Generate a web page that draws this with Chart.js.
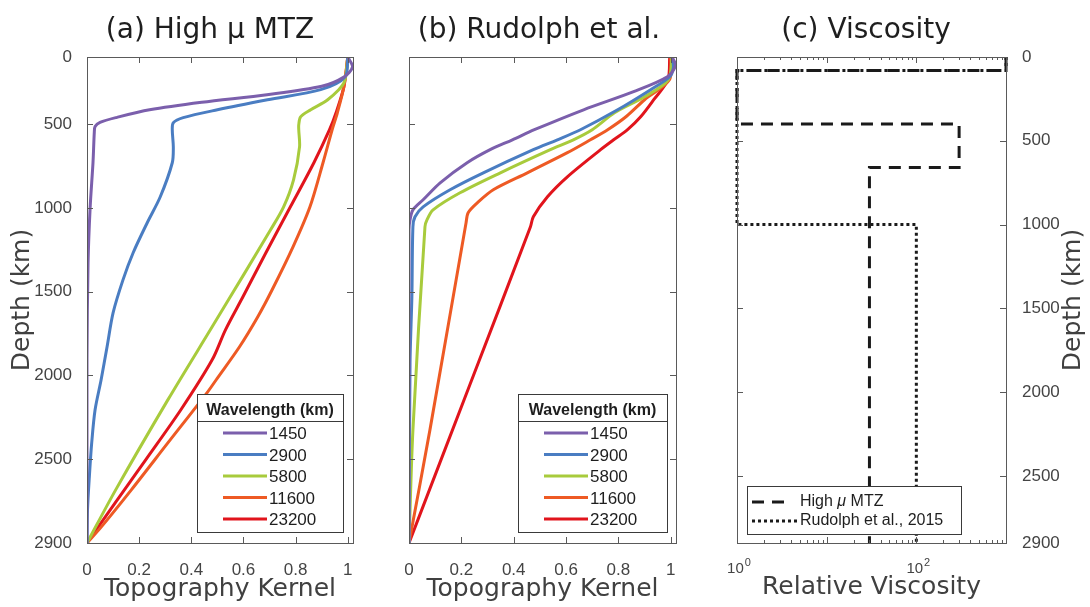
<!DOCTYPE html>
<html lang="en">
<head>
<meta charset="UTF-8" />
<title>Topography kernels and viscosity</title>
<script src="https://cdn.jsdelivr.net/npm/chart.js"></script>
<style>
  body { margin: 0; background: #fff; }
  #wrap { position: relative; width: 1090px; height: 607px; overflow: hidden; }
  canvas { position: absolute; top: 0; }
</style>
</head>
<body>
<div id="wrap">
  <canvas id="chartA" width="370" height="607" style="left:0px"></canvas>
  <canvas id="chartB" width="330" height="607" style="left:370px"></canvas>
  <canvas id="chartC" width="390" height="607" style="left:700px"></canvas>
</div>

<script>
// wavelengths and colours of the kernel curves
const wavelengths = ['1450', '2900', '5800', '11600', '23200'];
const kernelColors = ['#7b5fac', '#4a7dc2', '#a8cb3c', '#ee5a24', '#e1141c'];

// (a) High mu MTZ : depth (km, plotted axis) and kernel value
const depthA1450 = [0, 60, 120, 175, 225, 270, 315, 360, 390, 415, 450, 630, 900, 1230, 1800, 2900];
const kernA1450  = [1.0, 1.018, 0.985, 0.9, 0.69, 0.44, 0.24, 0.115, 0.05, 0.031, 0.028, 0.023, 0.012, 0.004, 0.0, 0.0];
const depthA2900 = [0, 118, 195, 255, 315, 362, 392, 434, 536, 631, 834, 989, 1168, 1330, 1527, 1729, 1927, 2105, 2303, 2505, 2700, 2900];
const kernA2900  = [1.0, 0.99, 0.896, 0.692, 0.5, 0.369, 0.331, 0.327, 0.331, 0.327, 0.281, 0.231, 0.177, 0.138, 0.1, 0.077, 0.054, 0.031, 0.018, 0.009, 0.002, 0];
const depthA5800 = [0, 154, 255, 315, 357, 404, 434, 536, 733, 894, 1031, 1288, 1610, 2046, 2583, 2900];
const kernA5800  = [1.0, 0.985, 0.923, 0.858, 0.819, 0.812, 0.812, 0.815, 0.792, 0.754, 0.704, 0.605, 0.48, 0.31, 0.11, 0];
const depthA11600 = [0, 178, 333, 434, 631, 894, 1133, 1389, 1550, 1729, 1916, 2004, 2303, 2583, 2804, 2900];
const kernA11600  = [1.0, 0.985, 0.96, 0.94, 0.905, 0.855, 0.79, 0.71, 0.655, 0.585, 0.5, 0.46, 0.31, 0.17, 0.055, 0];
const depthA23200 = [0, 178, 333, 434, 631, 894, 1168, 1431, 1628, 1807, 2105, 2404, 2661, 2900];
const kernA23200  = [1.0, 0.985, 0.955, 0.93, 0.87, 0.78, 0.686, 0.598, 0.531, 0.48, 0.36, 0.225, 0.108, 0];

// (b) Rudolph et al.
const depthB1450 = [0, 50, 118, 207, 315, 434, 494, 553, 631, 751, 852, 912, 971, 1031, 2900];
const kernB1450  = [1.005, 1.018, 0.987, 0.858, 0.667, 0.479, 0.395, 0.31, 0.222, 0.119, 0.054, 0.015, 0.004, 0, 0];
const depthB2900 = [0, 60, 118, 195, 315, 434, 494, 553, 691, 792, 894, 953, 1013, 1431, 1825, 2900];
const kernB2900  = [1.005, 1.01, 0.996, 0.923, 0.797, 0.655, 0.567, 0.475, 0.284, 0.157, 0.054, 0.023, 0.015, 0.011, 0.004, 0];
const depthB5800 = [0, 136, 237, 333, 434, 494, 553, 691, 810, 912, 971, 1013, 2225, 2900];
const kernB5800  = [1.005, 0.99, 0.9, 0.785, 0.70, 0.628, 0.54, 0.349, 0.195, 0.092, 0.069, 0.061, 0.015, 0];
const depthB11600 = [0, 136, 255, 355, 434, 494, 571, 691, 792, 870, 929, 989, 2225, 2900];
const kernB11600  = [1.0, 0.995, 0.9, 0.83, 0.759, 0.693, 0.605, 0.452, 0.322, 0.261, 0.226, 0.218, 0.08, 0];
const depthB23200 = [0, 136, 255, 357, 434, 494, 553, 715, 834, 953, 1013, 1950, 2900];
const kernB23200  = [0.996, 0.989, 0.935, 0.885, 0.835, 0.782, 0.732, 0.605, 0.529, 0.475, 0.464, 0.234, 0];

// (c) relative viscosity profiles
const depthMTZ = [0, 80, 80, 400, 400, 660, 660, 2900];
const viscMTZ  = [1000, 1000, 1, 1, 300, 300, 30, 30];
const depthRud = [0, 80, 80, 1000, 1000, 2900];
const viscRud  = [1000, 1000, 1, 1, 100, 100];

// ticks
const kernelTicks = [0, 0.2, 0.4, 0.6, 0.8, 1];
const depthTickPosAB = [0, 400, 900, 1400, 1900, 2400, 2900];
const depthTickLabelsAB = ['0', '500', '1000', '1500', '2000', '2500', '2900'];
const depthTicksC = [0, 500, 1000, 1500, 2000, 2500, 2900];
const viscDecades = [1, 10, 100, 1000];
const viscLabelTicks = [1, 100];
const viscLabelExp = ['0', '2'];

const tickColor = '#444';
const axisColor = '#5a5a5a';
const textColor = '#1e1e1e';
const sansFamily = '"Liberation Sans", "DejaVu Sans", Arial, sans-serif';
const bigFamily = '"DejaVu Sans", "Liberation Sans", sans-serif';

Chart.defaults.font.family = sansFamily;
Chart.defaults.color = tickColor;

function kernelSets(depths, kerns) {
  return depths.map((d, i) => ({
    label: wavelengths[i],
    data: d.map((v, j) => ({ x: kerns[i][j], y: v })),
    borderColor: kernelColors[i],
    backgroundColor: kernelColors[i],
    showLine: true,
    borderWidth: 3,
    tension: 0.3,
    pointRadius: 0
  }));
}

// box, inward ticks, panel title and legends
function makeDeco(cfg) {
  return {
    id: 'deco',
    afterDatasetsDraw(chart) {
      const { ctx, chartArea: a } = chart;
      const xs = chart.scales.x, ys = chart.scales.y;
      ctx.save();
      ctx.strokeStyle = axisColor;
      ctx.lineWidth = 1;
      ctx.beginPath();
      xs.ticks.forEach(t => {
        const p = Math.round(xs.getPixelForValue(t.value)) + 0.5;
        const len = cfg.logX && !viscDecades.includes(t.value) ? 3 : 6;
        ctx.moveTo(p, a.bottom); ctx.lineTo(p, a.bottom - len);
        ctx.moveTo(p, a.top); ctx.lineTo(p, a.top + len);
      });
      ys.ticks.forEach(t => {
        const p = Math.round(ys.getPixelForValue(t.value)) + 0.5;
        ctx.moveTo(a.left, p); ctx.lineTo(a.left + 6, p);
        ctx.moveTo(a.right, p); ctx.lineTo(a.right - 6, p);
      });
      ctx.stroke();
      ctx.strokeRect(Math.round(a.left) + 0.5, Math.round(a.top) + 0.5, Math.round(a.width), Math.round(a.height));

      // panel title
      ctx.fillStyle = textColor;
      ctx.font = '28px ' + bigFamily;
      ctx.textAlign = 'center';
      ctx.textBaseline = 'alphabetic';
      ctx.fillText(cfg.title, cfg.titleX, 38);

      if (cfg.rightTitle) {
        ctx.save();
        ctx.translate(cfg.rightTitleX, (a.top + a.bottom) / 2);
        ctx.rotate(-Math.PI / 2);
        ctx.fillStyle = '#404040';
        ctx.font = '25px ' + bigFamily;
        ctx.textAlign = 'center';
        ctx.fillText(cfg.rightTitle, 0, 0);
        ctx.restore();
      }

      // power-of-ten labels under the log axis
      if (cfg.logX) {
        ctx.fillStyle = tickColor;
        ctx.textAlign = 'left';
        ctx.textBaseline = 'alphabetic';
        viscLabelTicks.forEach((v, i) => {
          const p = xs.getPixelForValue(v);
          ctx.font = '15px ' + sansFamily;
          const w1 = ctx.measureText('10').width;
          ctx.font = '11px ' + sansFamily;
          const w2 = ctx.measureText(viscLabelExp[i]).width;
          const x0 = p + 2 - (w1 + 1 + w2) / 2;
          ctx.font = '15px ' + sansFamily;
          ctx.fillText('10', x0, a.bottom + 30);
          ctx.font = '11px ' + sansFamily;
          ctx.fillText(viscLabelExp[i], x0 + w1 + 1, a.bottom + 23);
        });
      }

      if (cfg.legend === 'kernel') drawKernelLegend(chart, a.right - cfg.legLeft, a.right - cfg.legRight);
      if (cfg.legend === 'visc') drawViscLegend(chart, a.left + 10, a.left + 224);
      ctx.restore();
    }
  };
}

function drawKernelLegend(chart, left, right) {
  const { ctx, chartArea: a } = chart;
  const top = a.bottom - 149, bottom = a.bottom - 11, sep = top + 27;
  ctx.fillStyle = '#fff';
  ctx.fillRect(left, top, right - left, bottom - top);
  ctx.strokeStyle = '#3a3a3a';
  ctx.lineWidth = 1;
  ctx.strokeRect(Math.round(left) + 0.5, top + 0.5, Math.round(right - left), bottom - top);
  ctx.beginPath();
  ctx.moveTo(left, sep + 0.5); ctx.lineTo(right, sep + 0.5);
  ctx.stroke();
  ctx.fillStyle = textColor;
  ctx.font = 'bold 16px ' + sansFamily;
  ctx.textAlign = 'center';
  ctx.textBaseline = 'alphabetic';
  ctx.fillText('Wavelength (km)', (left + right) / 2, top + 20.5);
  chart.data.datasets.forEach((ds, i) => {
    const yy = sep + 12 + i * 21.5;
    ctx.strokeStyle = ds.borderColor;
    ctx.lineWidth = 3;
    ctx.beginPath();
    ctx.moveTo(left + 26, yy); ctx.lineTo(left + 70, yy);
    ctx.stroke();
    ctx.fillStyle = textColor;
    ctx.font = '17px ' + sansFamily;
    ctx.textAlign = 'left';
    ctx.textBaseline = 'middle';
    ctx.fillText(ds.label, left + 72, yy + 1.5);
  });
}

function drawViscLegend(chart, left, right) {
  const { ctx, chartArea: a } = chart;
  const top = a.bottom - 57, bottom = a.bottom - 9;
  ctx.fillStyle = '#fff';
  ctx.fillRect(left, top, right - left, bottom - top);
  ctx.strokeStyle = '#3a3a3a';
  ctx.lineWidth = 1;
  ctx.strokeRect(Math.round(left) + 0.5, top + 0.5, Math.round(right - left), bottom - top);
  chart.data.datasets.forEach((ds, i) => {
    const yy = top + 16 + i * 19;
    ctx.strokeStyle = ds.borderColor;
    ctx.lineWidth = 3;
    ctx.setLineDash(ds.borderDash);
    ctx.beginPath();
    ctx.moveTo(left + 5, yy); ctx.lineTo(left + (i === 0 ? 41 : 50), yy);
    ctx.stroke();
    ctx.setLineDash([]);
    ctx.fillStyle = textColor;
    ctx.textAlign = 'left';
    ctx.textBaseline = 'middle';
    let tx = left + 53;
    const parts = ds.label.split('\u03bc');
    parts.forEach((p, k) => {
      if (k > 0) {
        ctx.font = 'italic 16px ' + sansFamily;
        ctx.fillText('\u03bc', tx, yy);
        tx += ctx.measureText('\u03bc').width;
      }
      ctx.font = '16px ' + sansFamily;
      ctx.fillText(p, tx, yy);
      tx += ctx.measureText(p).width;
    });
  });
}

function kernelAxisX() {
  return {
    type: 'linear', min: 0, max: 1.02,
    grid: { display: false }, border: { display: false },
    afterBuildTicks: s => { s.ticks = kernelTicks.map(v => ({ value: v })); },
    ticks: { padding: 9, color: tickColor, font: { size: 17 }, autoSkip: false, maxRotation: 0,
             callback: v => String(v) },
    title: { display: true, text: 'Topography Kernel', color: '#404040',
             font: { family: bigFamily, size: 25 }, padding: { top: 0, bottom: 3 } },
    afterFit: s => { s.height = 64; }
  };
}

function depthAxisAB(showLabels, width) {
  return {
    type: 'linear', reverse: true, min: 0, max: 2900,
    grid: { display: false }, border: { display: false },
    afterBuildTicks: s => { s.ticks = depthTickPosAB.map(v => ({ value: v })); },
    ticks: { display: showLabels, padding: 7, color: tickColor, font: { size: 17 }, autoSkip: false,
             callback: v => depthTickLabelsAB[depthTickPosAB.indexOf(v)] },
    title: { display: showLabels, text: 'Depth (km)', color: '#404040',
             font: { family: bigFamily, size: 25 }, padding: { top: 7, bottom: 0 } },
    afterFit: s => { s.width = width; }
  };
}

const baseOptions = {
  responsive: false,
  animation: false,
  devicePixelRatio: 1,
  plugins: { legend: { display: false }, tooltip: { enabled: false }, title: { display: false } }
};

new Chart(document.getElementById('chartA'), {
  type: 'scatter',
  data: { datasets: kernelSets(
    [depthA1450, depthA2900, depthA5800, depthA11600, depthA23200],
    [kernA1450, kernA2900, kernA5800, kernA11600, kernA23200]) },
  options: Object.assign({}, baseOptions, {
    layout: { padding: { top: 57, right: 17, bottom: 0, left: 0 }, autoPadding: false },
    scales: { x: kernelAxisX(), y: depthAxisAB(true, 87) }
  }),
  plugins: [makeDeco({ title: '(a) High \u03bc MTZ', titleX: 210, legend: 'kernel', legLeft: 156, legRight: 10 })]
});

new Chart(document.getElementById('chartB'), {
  type: 'scatter',
  data: { datasets: kernelSets(
    [depthB1450, depthB2900, depthB5800, depthB11600, depthB23200],
    [kernB1450, kernB2900, kernB5800, kernB11600, kernB23200]) },
  options: Object.assign({}, baseOptions, {
    layout: { padding: { top: 57, right: 24, bottom: 0, left: 0 }, autoPadding: false },
    scales: { x: kernelAxisX(), y: depthAxisAB(false, 39) }
  }),
  plugins: [makeDeco({ title: '(b) Rudolph et al.', titleX: 169, legend: 'kernel', legLeft: 158, legRight: 9 })]
});

new Chart(document.getElementById('chartC'), {
  type: 'scatter',
  data: { datasets: [
    { label: 'High \u03bc MTZ', data: depthMTZ.map((d, i) => ({ x: viscMTZ[i], y: d })),
      borderColor: '#1a1a1a', borderWidth: 3, borderDash: [12, 8], showLine: true, tension: 0,
      pointRadius: 0, clip: 4 },
    { label: 'Rudolph et al., 2015', data: depthRud.map((d, i) => ({ x: viscRud[i], y: d })),
      borderColor: '#1a1a1a', borderWidth: 3, borderDash: [3, 3], showLine: true, tension: 0,
      pointRadius: 0, clip: 4 }
  ] },
  options: Object.assign({}, baseOptions, {
    layout: { padding: { top: 57, right: 0, bottom: 0, left: 37 }, autoPadding: false },
    scales: {
      x: {
        type: 'logarithmic', min: 1, max: 1000,
        grid: { display: false }, border: { display: false },
        afterBuildTicks: s => {
          const t = [];
          viscDecades.forEach(d => {
            if (d === 1000) { t.push({ value: d }); return; }
            for (let m = 1; m < 10; m++) t.push({ value: d * m });
          });
          s.ticks = t;
        },
        ticks: { padding: 15, color: tickColor, font: { size: 17 }, autoSkip: false, maxRotation: 0,
                 callback: () => '' },
        title: { display: true, text: 'Relative Viscosity', color: '#404040',
                 font: { family: bigFamily, size: 25 }, padding: { top: 0, bottom: 5 } },
        afterFit: s => { s.height = 64; }
      },
      y: {
        type: 'linear', position: 'right', reverse: true, min: 0, max: 2900,
        grid: { display: false }, border: { display: false },
        afterBuildTicks: s => { s.ticks = depthTicksC.map(v => ({ value: v })); },
        ticks: { padding: 8, color: tickColor, font: { size: 17 }, autoSkip: false, callback: v => String(v) },
        afterFit: s => { s.width = 84; }
      }
    }
  }),
  plugins: [makeDeco({ title: '(c) Viscosity', titleX: 166, logX: true, legend: 'visc',
                       rightTitle: 'Depth (km)', rightTitleX: 380 })]
});
</script>
</body>
</html>
